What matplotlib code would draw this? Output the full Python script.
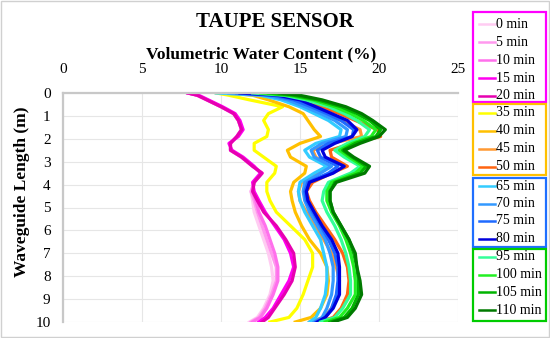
import matplotlib
matplotlib.use("Agg")
import matplotlib.pyplot as plt
from matplotlib.lines import Line2D
from matplotlib.patches import Rectangle

plt.rcParams['font.family'] = ['Liberation Serif', 'DejaVu Serif']

# ---------------- data ----------------
depth = [0, 0.1, 0.3, 0.6, 0.9, 1.2, 1.6, 1.9, 2.2, 2.5, 2.8, 3.2, 3.5,
         3.9, 4.3, 4.7, 5.2, 5.8, 6.4, 7.0, 7.6, 8.2, 8.8, 9.4, 9.8, 10.0]

labels = ['0 min', '5 min', '10 min', '15 min', '20 min',
          '35 min', '40 min', '45 min', '50 min',
          '65 min', '70 min', '75 min', '80 min',
          '95 min', '100 min', '105 min', '110 min']

colors = ['#FFCCF2', '#FF99EE', '#FF70EC', '#FF00F0', '#E600B0',
          '#FFFF00', '#FFC000', '#FF9933', '#FF6410',
          '#33CCFF', '#3399FF', '#1F6AFF', '#0000DD',
          '#33FF99', '#22F022', '#00B400', '#007A00']

vwc_0 = [7.9, 8.5, 9.1, 10.0, 10.8, 11.1, 11.3, 11.0, 10.6, 10.6, 11.3, 12.0, 12.6,
         12.1, 11.9, 12.0, 12.1, 12.4, 12.7, 13.0, 13.2, 13.3, 13.1, 12.7, 12.3, 11.8]
vwc_5 = [7.9, 8.5, 9.1, 10.0, 10.8, 11.1, 11.3, 11.0, 10.6, 10.6, 11.3, 12.0, 12.6,
         12.1, 11.9, 12.1, 12.3, 12.6, 12.9, 13.2, 13.5, 13.5, 13.2, 12.8, 12.4, 11.9]
vwc_10 = [7.9, 8.5, 9.1, 10.0, 10.8, 11.1, 11.3, 11.0, 10.6, 10.6, 11.3, 12.0, 12.6,
          12.1, 12.0, 12.2, 12.4, 12.8, 13.1, 13.4, 13.6, 13.6, 13.3, 12.9, 12.5, 12.0]
vwc_15 = [7.9, 8.6, 9.2, 10.1, 10.9, 11.2, 11.4, 11.1, 10.5, 10.7, 11.4, 12.1, 12.5,
          12.0, 12.1, 12.4, 12.8, 13.4, 14.0, 14.4, 14.6, 14.3, 13.8, 13.3, 12.8, 12.4]
vwc_20 = [7.9, 8.5, 9.1, 10.0, 10.8, 11.1, 11.3, 11.0, 10.6, 10.6, 11.3, 12.0, 12.6,
          12.1, 12.0, 12.3, 12.7, 13.5, 14.1, 14.6, 14.7, 14.5, 14.0, 13.4, 13.0, 12.6]
vwc_35 = [9.7, 10.5, 11.8, 13.9, 13.0, 12.7, 13.0, 12.9, 12.1, 12.1, 12.7, 13.5, 13.4,
          12.9, 12.9, 13.1, 13.5, 14.4, 15.3, 15.8, 15.8, 15.5, 15.2, 14.8, 14.3, 13.1]
vwc_40 = [10.3, 12.0, 13.0, 14.3, 15.2, 15.5, 15.9, 16.3, 15.0, 14.2, 14.4, 15.4, 15.3,
          14.6, 14.4, 14.5, 14.7, 15.1, 15.6, 16.3, 16.7, 16.8, 16.7, 16.3, 15.7, 14.7]
vwc_45 = [10.8, 12.8, 14.0, 15.5, 16.6, 17.6, 18.8, 18.9, 17.0, 15.8, 16.0, 16.8, 16.0,
          15.1, 14.9, 15.0, 15.4, 15.9, 16.5, 17.0, 17.3, 17.5, 17.4, 17.0, 16.5, 15.6]
vwc_50 = [11.3, 13.3, 14.6, 16.3, 17.5, 18.5, 19.9, 20.1, 18.3, 16.9, 17.0, 18.0, 17.0,
          15.8, 15.4, 15.6, 16.0, 16.6, 17.2, 17.7, 18.0, 18.1, 18.0, 17.6, 17.1, 16.2]
vwc_65 = [9.7, 12.5, 13.8, 15.0, 15.9, 16.8, 17.6, 17.5, 16.0, 15.3, 15.6, 16.7, 15.9,
          15.0, 14.9, 15.0, 15.3, 15.8, 16.3, 16.5, 16.7, 16.7, 16.6, 16.3, 16.0, 15.6]
vwc_70 = [10.5, 12.9, 14.2, 15.3, 16.3, 17.2, 18.0, 17.9, 16.4, 15.7, 15.9, 17.0, 16.3,
          15.3, 15.2, 15.3, 15.6, 16.1, 16.6, 16.9, 17.1, 17.1, 17.0, 16.7, 16.4, 15.9]
vwc_75 = [11.0, 13.3, 14.6, 15.7, 16.7, 17.6, 18.4, 18.3, 16.8, 16.1, 16.3, 17.4, 16.8,
          15.5, 15.3, 15.4, 15.8, 16.3, 16.8, 17.2, 17.4, 17.4, 17.3, 17.0, 16.6, 16.0]
vwc_80 = [11.2, 13.6, 15.0, 16.0, 17.0, 18.0, 18.6, 18.3, 17.2, 16.4, 16.6, 17.8, 17.1,
          15.6, 15.4, 15.5, 15.9, 16.4, 17.0, 17.4, 17.5, 17.5, 17.5, 17.1, 16.6, 16.1]
vwc_95 = [12.0, 14.0, 15.4, 16.8, 17.8, 18.6, 19.4, 19.1, 18.0, 17.2, 17.8, 18.8, 18.2,
          16.8, 16.5, 16.4, 16.7, 17.2, 17.6, 17.9, 18.1, 18.2, 18.2, 17.7, 17.2, 16.3]
vwc_100 = [12.5, 14.3, 15.8, 17.2, 18.2, 19.0, 19.8, 19.5, 18.3, 17.5, 18.1, 19.0, 18.5,
           17.0, 16.7, 16.7, 17.0, 17.5, 17.9, 18.2, 18.4, 18.5, 18.5, 18.0, 17.5, 16.6]
vwc_105 = [13.0, 14.6, 16.1, 17.6, 18.6, 19.4, 20.1, 19.8, 18.5, 17.7, 18.3, 19.2, 18.8,
           17.2, 16.9, 16.9, 17.1, 17.6, 18.1, 18.4, 18.6, 18.7, 18.7, 18.3, 17.8, 16.9]
vwc_110 = [13.7, 15.0, 16.4, 17.9, 18.9, 19.6, 20.4, 20.0, 18.8, 17.8, 18.4, 19.4, 19.1,
           17.3, 16.9, 16.9, 17.1, 17.6, 18.1, 18.5, 18.6, 18.8, 18.9, 18.5, 18.0, 17.1]

series = [vwc_0, vwc_5, vwc_10, vwc_15, vwc_20, vwc_35, vwc_40, vwc_45, vwc_50,
          vwc_65, vwc_70, vwc_75, vwc_80, vwc_95, vwc_100, vwc_105, vwc_110]

xticks = [0, 5, 10, 15, 20, 25]
yticks = [0, 1, 2, 3, 4, 5, 6, 7, 8, 9, 10]

# ---------------- figure ----------------
W, H = 550, 338
fig = plt.figure(figsize=(W / 100, H / 100), dpi=100)
fig.patch.set_facecolor('white')

def fx(px):
    return px / W

def fy(py):
    return 1 - py / H

ax_l, ax_r, ax_t, ax_b = 63, 458, 93, 322
ax = fig.add_axes([fx(ax_l), fy(ax_b), fx(ax_r - ax_l), (ax_b - ax_t) / H])

lines = []
for vals, lab, col in zip(series, labels, colors):
    ln, = ax.plot(vals, depth, color=col, lw=2.3, label=lab)
    lines.append(ln)

ax.set_xlim(0, 25)
ax.set_ylim(10, 0)
ax.set_xticks(xticks)
ax.set_yticks(yticks)
ax.xaxis.tick_top()
ax.tick_params(axis='both', length=0)
ax.tick_params(axis='x', labelsize=11, pad=12)
ax.tick_params(axis='y', labelsize=11, pad=9)
ax.grid(True, color='#E6E6E6', lw=0.8)
ax.set_axisbelow(True)
for s in ['right', 'bottom']:
    ax.spines[s].set_visible(False)
for s in ['left', 'top']:
    ax.spines[s].set_color('#C8C8C8')
    ax.spines[s].set_linewidth(1.6)

ax.xaxis.set_label_position('top')
ax.set_xlabel('Volumetric Water Content (%)', fontsize=12.5, fontweight='bold')
ax.xaxis.label.set_va('center')
ax.xaxis.set_label_coords((261 - ax_l) / (ax_r - ax_l), (ax_b - 54) / (ax_b - ax_t))
ax.set_ylabel('Waveguide Length (m)', fontsize=12.5, fontweight='bold')
ax.yaxis.label.set_va('center')
ax.yaxis.set_label_coords((22 - ax_l) / (ax_r - ax_l), (ax_b - 192) / (ax_b - ax_t))

fig.text(0.5, fy(22), 'TAUPE SENSOR', ha='center', va='center',
         fontsize=15, fontweight='bold')

# outer chart border
fig.add_artist(Rectangle((fx(1), fy(337)), fx(548), 336 / H, transform=fig.transFigure,
                         fill=False, edgecolor='#D0D0D0', lw=1.0))

# ---------------- legend (four framed groups) ----------------
groups = [(range(0, 5), '#FF00FF', 11.7, 101.7, [24, 42, 60, 78, 95.5]),
          (range(5, 9), '#FFC000', 104.3, 175.0, [113, 131, 149, 167]),
          (range(9, 13), '#1F6FFF', 177.7, 246.7, [186, 203.5, 221, 238.5]),
          (range(13, 17), '#00CC00', 249.3, 320.7, [257, 274.5, 292, 310])]
box_l, box_r = 472.5, 545.5
for idx, ecol, top, bot, ys in groups:
    fig.add_artist(Rectangle((fx(box_l), fy(bot)), fx(box_r - box_l), (bot - top) / H,
                             transform=fig.transFigure, fill=False,
                             edgecolor=ecol, lw=1.6))
    for i, yy in zip(idx, ys):
        fig.add_artist(Line2D([fx(479), fx(495)], [fy(yy), fy(yy)],
                              transform=fig.transFigure, color=lines[i].get_color(), lw=1.8))
        fig.text(fx(495.5), fy(yy), labels[i], ha='left', va='center', fontsize=10)

fig.savefig('out.png', dpi=100)
